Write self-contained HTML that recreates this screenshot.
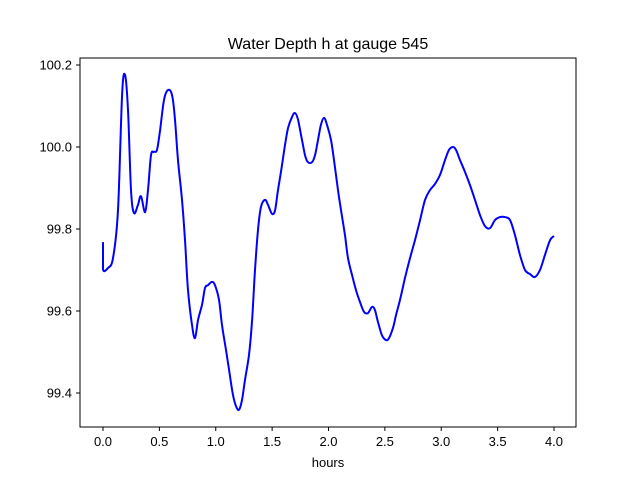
<!DOCTYPE html>
<html><head><meta charset="utf-8"><style>
body{margin:0;background:#fff;}
svg{display:block;font-family:"Liberation Sans","DejaVu Sans",sans-serif;}
</style></head><body>
<svg id="chart" width="640" height="480">
<rect x="0" y="0" width="640" height="480" fill="#fff"/>
<text x="328" y="49" text-anchor="middle" font-size="16">Water Depth h at gauge 545</text>
<g id="ticks"></g>
<path id="series" fill="none" stroke="#0000ff" stroke-width="2" stroke-linejoin="round"/>
<rect x="80" y="58" width="496" height="369" fill="none" stroke="#000" stroke-width="1"/>
<text x="328" y="467" text-anchor="middle" font-size="13">hours</text>
</svg>
<script>
const hours=[0,0,.044,.089,.133,.169,.195,.222,.248,.275,.310,.337,.373,.399,.426,.452,.479,.506,.541,.577,.612,.639,.665,.701,.727,.754,.789,.816,.843,.878,.905,.931,.967,.993,1.029,1.055,1.091,1.118,1.153,1.180,1.206,1.233,1.259,1.295,1.322,1.348,1.375,1.401,1.437,1.463,1.499,1.526,1.552,1.588,1.614,1.641,1.676,1.703,1.730,1.765,1.792,1.818,1.854,1.880,1.907,1.933,1.960,1.987,2.022,2.049,2.084,2.111,2.146,2.173,2.208,2.244,2.279,2.315,2.350,2.386,2.412,2.439,2.474,2.510,2.537,2.572,2.599,2.634,2.678,2.723,2.767,2.812,2.856,2.900,2.945,2.989,3.033,3.069,3.104,3.131,3.166,3.211,3.255,3.299,3.344,3.388,3.432,3.477,3.521,3.565,3.610,3.654,3.698,3.743,3.787,3.831,3.876,3.920,3.965,4.0];
const depth=[99.768,99.702,99.705,99.729,99.846,100.127,100.176,100.090,99.895,99.839,99.859,99.880,99.841,99.895,99.980,99.988,99.993,100.041,100.115,100.139,100.127,100.066,99.968,99.871,99.773,99.651,99.566,99.534,99.578,99.615,99.656,99.663,99.671,99.663,99.627,99.566,99.505,99.456,99.395,99.368,99.359,99.383,99.432,99.493,99.578,99.700,99.798,99.854,99.871,99.859,99.837,99.846,99.895,99.956,100.005,100.046,100.073,100.083,100.066,100.017,99.980,99.963,99.963,99.980,100.017,100.054,100.071,100.054,100.017,99.968,99.895,99.846,99.785,99.729,99.688,99.651,99.622,99.598,99.595,99.610,99.602,99.573,99.541,99.529,99.534,99.559,99.590,99.627,99.680,99.729,99.773,99.822,99.871,99.895,99.910,99.932,99.968,99.993,100.0,99.993,99.968,99.939,99.907,99.871,99.834,99.807,99.802,99.822,99.829,99.829,99.822,99.785,99.737,99.700,99.690,99.683,99.700,99.737,99.773,99.783];
const xTicks=[0,0.5,1,1.5,2,2.5,3,3.5,4];
const xTickLabels=["0.0","0.5","1.0","1.5","2.0","2.5","3.0","3.5","4.0"];
const yTicks=[99.4,99.6,99.8,100.0,100.2];
const yTickLabels=["99.4","99.6","99.8","100.0","100.2"];
const X=t=>103+t*112.75;
const Y=v=>65+(100.2-v)*410;
const NS="http://www.w3.org/2000/svg";
const g=document.getElementById('ticks');
function mk(tag,attrs){const e=document.createElementNS(NS,tag);for(const k in attrs)e.setAttribute(k,attrs[k]);return e;}
xTicks.forEach((t,i)=>{
  const l=mk('line',{x1:X(t),x2:X(t),y1:427,y2:431,stroke:'#000'});
  
  
  g.appendChild(l);
  const tx=mk('text',{x:X(t),y:446,'text-anchor':'middle','font-size':'13'});
  tx.textContent=xTickLabels[i];
  
  
  g.appendChild(tx);
});
yTicks.forEach((v,i)=>{
  const l=mk('line',{x1:76,x2:80,y1:Y(v),y2:Y(v),stroke:'#000'});
  
  
  g.appendChild(l);
  const tx=mk('text',{x:72,y:Y(v)+4.5,'text-anchor':'end','font-size':'13'});
  tx.textContent=yTickLabels[i];
  
  
  g.appendChild(tx);
});
const P=hours.map((t,i)=>[X(t),Y(depth[i])]);
let d='M'+P[0][0].toFixed(1)+','+P[0][1].toFixed(1);
for(let i=0;i<P.length-1;i++){
  const p0=P[Math.max(i-1,0)],p1=P[i],p2=P[i+1],p3=P[Math.min(i+2,P.length-1)];
  const c1=[p1[0]+(p2[0]-p0[0])/6,p1[1]+(p2[1]-p0[1])/6];
  const c2=[p2[0]-(p3[0]-p1[0])/6,p2[1]-(p3[1]-p1[1])/6];
  if(i===0){c1[0]=p1[0];c1[1]=p1[1];c2[0]=p2[0];c2[1]=p2[1];}
  d+=' C'+c1[0].toFixed(1)+','+c1[1].toFixed(1)+' '+c2[0].toFixed(1)+','+c2[1].toFixed(1)+' '+p2[0].toFixed(1)+','+p2[1].toFixed(1);
}
document.getElementById('series').setAttribute('d',d);
</script>
</body></html>
